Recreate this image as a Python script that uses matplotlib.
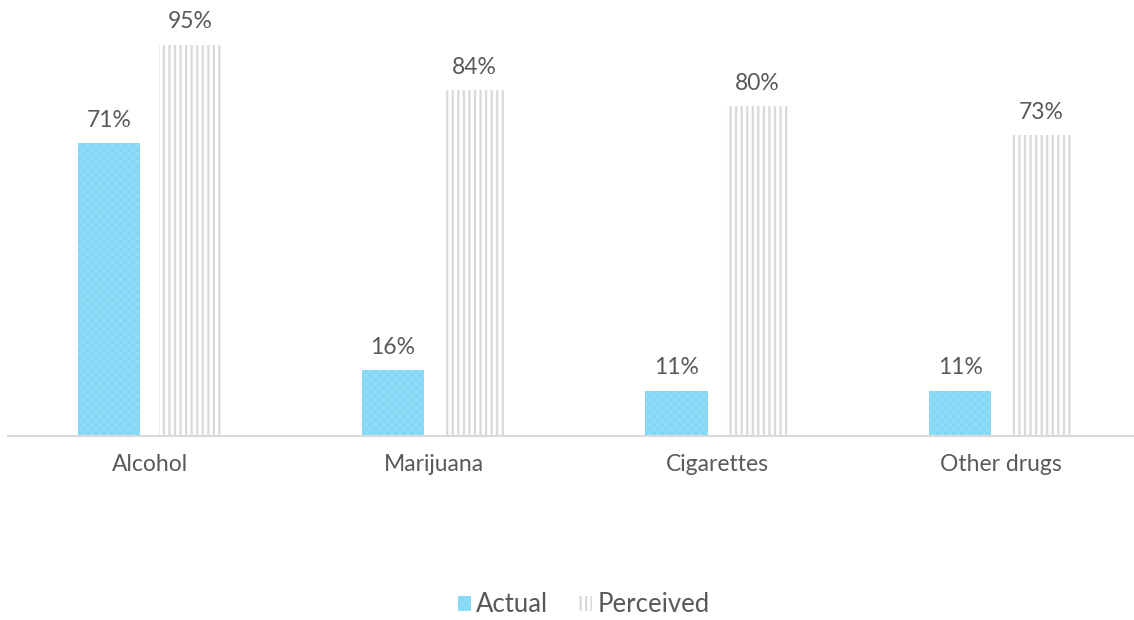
import matplotlib.pyplot as plt
import numpy as np

categories = ["Alcohol", "Marijuana", "Cigarettes", "Other drugs"]
actual = [71, 16, 11, 11]
perceived = [95, 84, 80, 73]


def main():
    plt.rcParams['font.family'] = ['Lato', 'DejaVu Sans']
    plt.rcParams['hatch.linewidth'] = 1.6
    fig = plt.figure(figsize=(11.34, 6.2), dpi=100)
    ax = fig.add_axes([8 / 1134, 1 - 436 / 620, 1126 / 1134, (436 - 24) / 620])

    x = np.arange(len(categories))
    w = 0.22
    off = 0.143
    b1 = ax.bar(x - off, actual, w, color="#80d8f6", edgecolor="#8fdcf7",
                hatch="xxxx", linewidth=0, label="Actual")
    b2 = ax.bar(x + off, perceived, w, color="white", edgecolor="#d9d9d9",
                hatch="|||", linewidth=0, label="Perceived")

    for bars, vals in ((b1, actual), (b2, perceived)):
        for r, v in zip(bars, vals):
            ax.text(r.get_x() + r.get_width() / 2, v + 3, "%d%%" % v,
                    ha="center", va="bottom", fontsize=16.5, color="#595959")

    ax.set_xlim(-0.5, 3.47)
    ax.set_ylim(0, 100)
    ax.set_yticks([])
    ax.set_xticks(x)
    ax.set_xticklabels(categories, fontsize=16.5, color="#595959")
    ax.tick_params(axis="x", length=0, pad=13)
    for s in ("top", "right", "left"):
        ax.spines[s].set_visible(False)
    ax.spines["bottom"].set_color("#d9d9d9")
    ax.spines["bottom"].set_linewidth(1.5)

    fig.legend(handles=[b1, b2], loc="center", bbox_to_anchor=(0.515, 1 - 605 / 620),
               ncol=2, frameon=False, fontsize=18.5, labelcolor="#595959",
               handlelength=0.5, handleheight=0.5, handletextpad=0.2, columnspacing=1.2)

    fig.savefig("out.png", dpi=100)


if __name__ == "__main__":
    main()
